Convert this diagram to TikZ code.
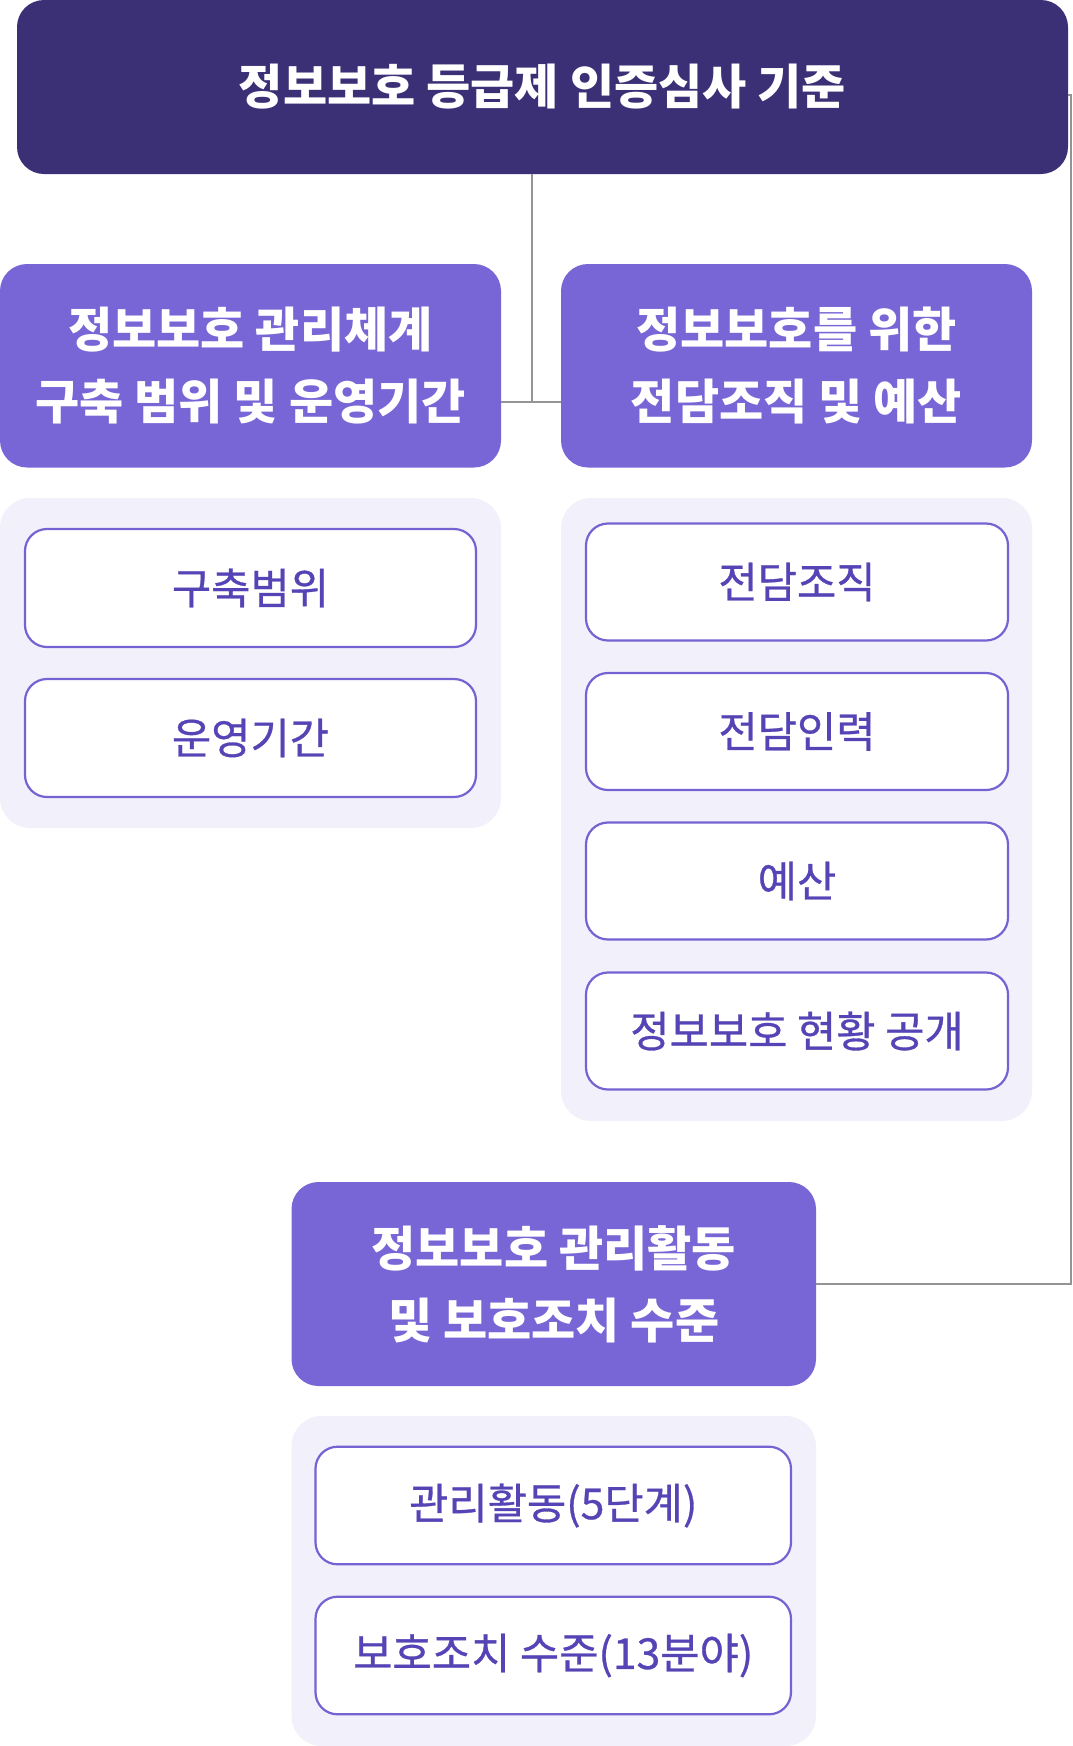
\documentclass[tikz,border=0pt]{standalone}
\usepackage{fontspec}
\newfontfamily\kr{Noto Sans CJK KR}
\newfontfamily\krmed[FakeBold=0.7]{Noto Sans CJK KR}
\definecolor{topc}{HTML}{3B2F75}
\definecolor{midc}{HTML}{7966D6}
\definecolor{panelc}{HTML}{F2F0FA}
\definecolor{borderc}{HTML}{7463D2}
\definecolor{itemtext}{HTML}{5544B5}
\definecolor{linec}{HTML}{949494}
\tikzset{
  topbox/.style={fill=topc, rounded corners=27pt, inner sep=0pt, text=white,
    font=\kr\bfseries\fontsize{48}{72}\selectfont, align=center},
  midbox/.style={fill=midc, rounded corners=27pt, inner sep=0pt, text=white,
    font=\kr\bfseries\fontsize{48}{72}\selectfont, align=center},
  panel/.style={fill=panelc, rounded corners=30pt, inner sep=0pt},
  itembox/.style={fill=white, draw=borderc, line width=2.2pt, rounded corners=22pt,
    inner sep=0pt, text=itemtext, font=\krmed\fontsize{42.7}{50}\selectfont, align=center},
  conn/.style={draw=linec, line width=2.5pt}
}
\begin{document}
\begin{tikzpicture}[x=1pt,y=-1pt]
\useasboundingbox (0,0) rectangle (1073,1746);
% top
\node[topbox, minimum width=1051pt, minimum height=174pt] (top) at (542.5,87) {정보보호 등급제 인증심사 기준};
% middle headers
\node[midbox, minimum width=501pt, minimum height=203.5pt] (left) at (250.5,365.75) {정보보호 관리체계\\구축 범위 및 운영기간};
\node[midbox, minimum width=471pt, minimum height=203.5pt] (right) at (796.5,365.75) {정보보호를 위한\\전담조직 및 예산};
% panels
\node[panel, minimum width=501pt, minimum height=330pt] (lpanel) at (250.5,663) {};
\node[panel, minimum width=471pt, minimum height=623pt] (rpanel) at (796.5,809.5) {};
% left items
\node[itembox, minimum width=451pt, minimum height=118pt] (l1) at (250.5,588) {구축범위};
\node[itembox, minimum width=451pt, minimum height=118pt] (l2) at (250.5,738) {운영기간};
% right items
\node[itembox, minimum width=422pt, minimum height=117pt] (r1) at (797,582) {전담조직};
\node[itembox, minimum width=422pt, minimum height=117pt] (r2) at (797,731.5) {전담인력};
\node[itembox, minimum width=422pt, minimum height=117pt] (r3) at (797,881) {예산};
\node[itembox, minimum width=422pt, minimum height=117pt] (r4) at (797,1031) {정보보호 현황 공개};
% bottom
\node[midbox, minimum width=524.5pt, minimum height=204pt] (bottom) at (553.75,1284) {정보보호 관리활동\\및 보호조치 수준};
\node[panel, minimum width=524.5pt, minimum height=330pt] (bpanel) at (553.75,1581) {};
\node[itembox, minimum width=475.5pt, minimum height=117.6pt] (b1) at (553.25,1505.5) {관리활동(5단계)};
\node[itembox, minimum width=475.5pt, minimum height=117.6pt] (b2) at (553.25,1655.5) {보호조치 수준(13분야)};
% connectors
\coordinate (j) at (532,402);
\coordinate (rt) at (1071,95);
\coordinate (rb) at (1071,1284);
\draw[conn] (top.south -| j) -- (j);
\draw[conn] (left.east |- j) -- (right.west |- j);
\draw[conn] (top.east |- rt) -- (rt) -- (rb) -- (bottom.east);
\end{tikzpicture}
\end{document}
